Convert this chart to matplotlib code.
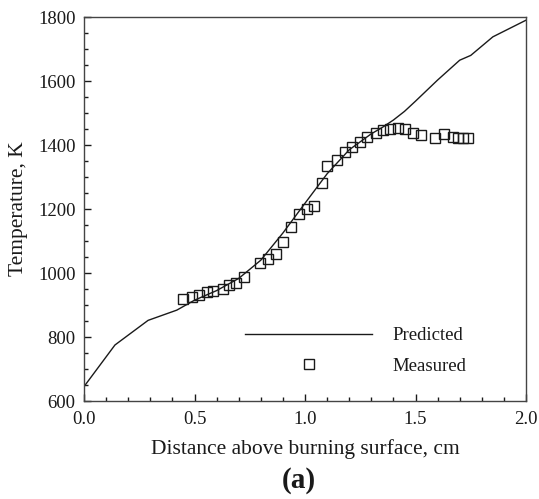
import matplotlib
matplotlib.use("Agg")
import matplotlib.pyplot as plt
from matplotlib.ticker import MultipleLocator

# Predicted curve
pred_x = [0.0, 0.14, 0.29, 0.42, 0.5, 0.6, 0.7, 0.8, 0.9, 1.0, 1.1, 1.2, 1.3, 1.35, 1.4, 1.45, 1.5, 1.6, 1.7, 1.75, 1.85, 2.0]
pred_y = [645, 775, 852, 884, 915, 945, 983, 1040, 1125, 1218, 1310, 1385, 1435, 1455, 1478, 1505, 1537, 1603, 1665, 1680, 1738, 1790]

# Measured data
meas_x = [0.449, 0.487, 0.52, 0.558, 0.585, 0.628, 0.656, 0.69, 0.724, 0.798, 0.834, 0.868,
          0.90, 0.937, 0.971, 1.008, 1.042, 1.075, 1.10, 1.143, 1.181, 1.211, 1.249, 1.279,
          1.321, 1.352, 1.385, 1.419, 1.454, 1.49, 1.523, 1.588, 1.63, 1.668, 1.694, 1.714, 1.736]
meas_y = [920, 925, 930, 941, 944, 951, 962, 969, 987, 1031, 1045, 1060,
          1097, 1143, 1185, 1201, 1210, 1282, 1333, 1353, 1379, 1395, 1410, 1426,
          1437, 1448, 1451, 1453, 1450, 1438, 1432, 1422, 1434, 1426, 1423, 1423, 1423]

plt.rcParams['font.family'] = ['Liberation Serif', 'DejaVu Serif']

fig = plt.figure(figsize=(5.39, 4.99), dpi=100)
ax = fig.add_axes([84/539, 1-401/499, (526-84)/539, (401-17)/499])

ax.plot(pred_x, pred_y, color='#1a1a1a', lw=1.0, label='Predicted')
ax.plot(meas_x, meas_y, ls='none', marker='s', ms=7.5, mfc='none', mec='#1a1a1a', mew=1.0, label='Measured')

ax.set_xlim(0, 2.0)
ax.set_ylim(600, 1800)
ax.xaxis.set_major_locator(MultipleLocator(0.5))
ax.xaxis.set_minor_locator(MultipleLocator(0.1))
ax.yaxis.set_major_locator(MultipleLocator(200))
ax.yaxis.set_minor_locator(MultipleLocator(50))
ax.xaxis.set_major_formatter(plt.FormatStrFormatter('%.1f'))
ax.tick_params(which='both', direction='in', top=False, right=False, colors='#1a1a1a', labelsize=13.5)
ax.tick_params(which='major', length=5, width=1.0)
ax.tick_params(axis='x', which='major', pad=7)
ax.tick_params(axis='y', which='major', pad=6)
ax.tick_params(which='minor', length=3, width=1.0)
for s in ax.spines.values():
    s.set_linewidth(1.0)
    s.set_color('#444444')

ax.set_xlabel('Distance above burning surface, cm', fontsize=15.5, color='#1a1a1a', labelpad=8)
ax.set_ylabel('Temperature, K', fontsize=15.5, color='#1a1a1a', labelpad=7)

leg = ax.legend(loc='center left', bbox_to_anchor=((246-84-5)/442, (401-351)/384),
                frameon=False, fontsize=13.5, handlelength=6.8, handletextpad=1.1,
                labelspacing=0.7, borderaxespad=0, borderpad=0.2)
for t in leg.get_texts():
    t.set_color('#1a1a1a')

fig.text(299/539, 1-480/499, '(a)', fontsize=21, fontweight='bold', ha='center', va='center', color='#1a1a1a')

fig.savefig('out.png', dpi=100)
